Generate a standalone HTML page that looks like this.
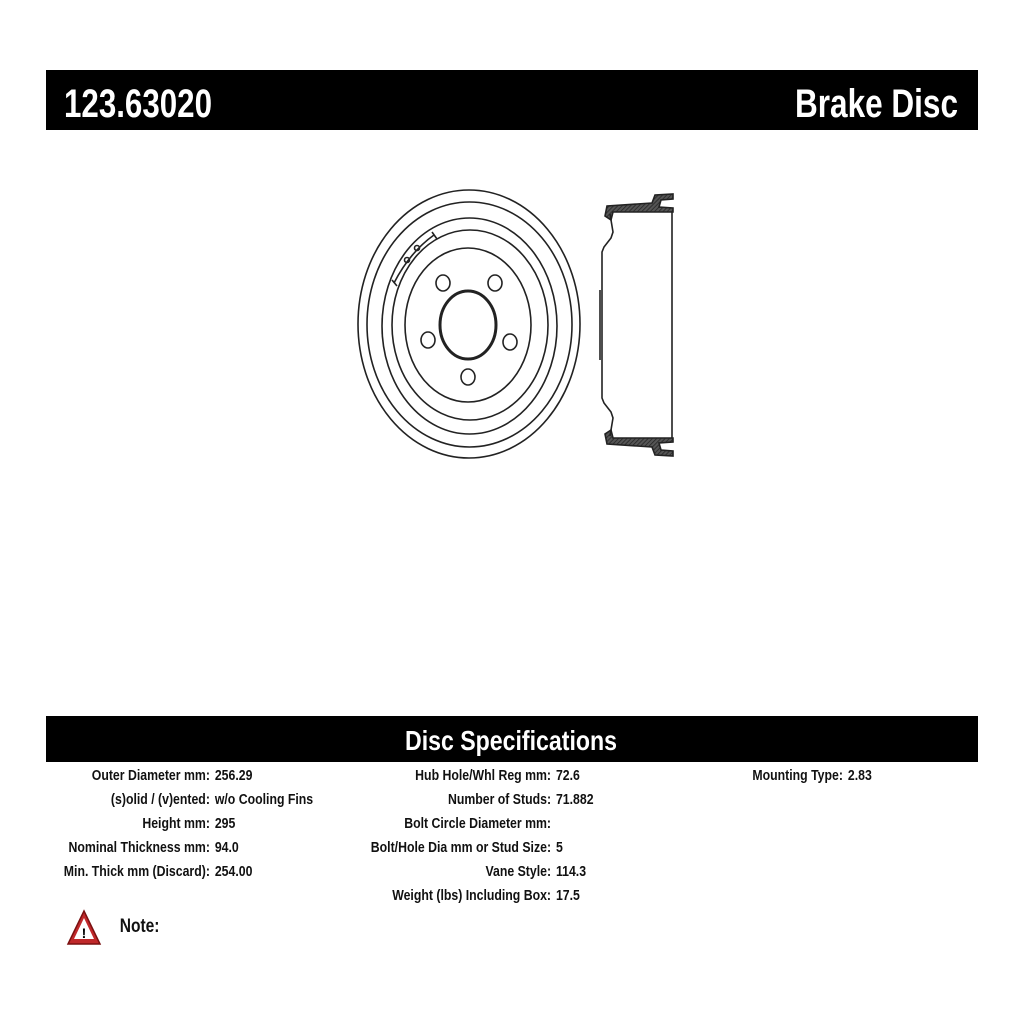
<!DOCTYPE html>
<html><head><meta charset="utf-8"><style>
html,body{margin:0;padding:0;background:#fff}
svg{display:block}
text{font-family:"Liberation Sans",Arial,sans-serif;font-weight:bold}
</style></head><body>
<svg width="1024" height="1024" viewBox="0 0 1024 1024" xmlns="http://www.w3.org/2000/svg">
<defs>
<pattern id="h" width="3" height="3" patternUnits="userSpaceOnUse" patternTransform="rotate(45)">
<rect width="3" height="3" fill="#555"/><line x1="0" y1="0" x2="0" y2="3" stroke="#222" stroke-width="1.5"/>
</pattern>
</defs>
<rect x="46" y="70" width="932" height="60" fill="#000"/>
<text x="64" y="117" font-size="40" fill="#fff" textLength="148" lengthAdjust="spacingAndGlyphs">123.63020</text>
<text x="795" y="117" font-size="40" fill="#fff" textLength="163" lengthAdjust="spacingAndGlyphs">Brake Disc</text>

<g fill="none" stroke="#222" stroke-width="1.6">
<ellipse cx="469" cy="324" rx="111" ry="134"/>
<ellipse cx="469.5" cy="324.5" rx="102.5" ry="122.5"/>
<ellipse cx="469.5" cy="326" rx="87.5" ry="108"/>
<ellipse cx="470" cy="325" rx="78" ry="95"/>
<ellipse cx="468" cy="325" rx="63" ry="77"/>
<ellipse cx="468" cy="325" rx="28" ry="34" stroke-width="3"/>
<ellipse cx="443" cy="283" rx="7" ry="8"/>
<ellipse cx="495" cy="283" rx="7" ry="8"/>
<ellipse cx="428" cy="340" rx="7" ry="8"/>
<ellipse cx="510" cy="342" rx="7" ry="8"/>
<ellipse cx="468" cy="377" rx="7" ry="8"/>
<circle cx="407" cy="260" r="2.5"/>
<circle cx="417" cy="248" r="2.5"/>
<line x1="432" y1="232" x2="437" y2="239"/>
<line x1="392" y1="280" x2="397" y2="286"/>
<path d="M434 235 Q410 252 394 283"/>
</g>

<!-- side view -->
<g stroke="#222" stroke-width="1.6">
<path d="M605 216 L607 206 L652 203 L655 195 L673 194 L673 199 L661 200 L659 207 L673 208 L673 212 L613 212 L611 220 Z" fill="url(#h)"/>
<path d="M605 434 L607 444 L652 447 L655 455 L673 456 L673 451 L661 450 L659 443 L673 442 L673 438 L613 438 L611 430 Z" fill="url(#h)"/>
<line x1="672" y1="212" x2="672" y2="438" fill="none"/>
<path d="M610 214 L613 232 L611 238 L604 247 L602 252 L602 398 L604 403 L611 412 L613 418 L610 436" fill="none"/>
<line x1="600" y1="290" x2="600" y2="360"/>
</g>

<rect x="46" y="716" width="932" height="46" fill="#000"/>
<text x="405" y="750" font-size="28" fill="#fff" textLength="212" lengthAdjust="spacingAndGlyphs">Disc Specifications</text>

<g transform="scale(0.82 1)" font-size="15" fill="#111">
<g text-anchor="end">
<text x="256" y="780">Outer Diameter mm:</text>
<text x="256" y="804">(s)olid / (v)ented:</text>
<text x="256" y="828">Height mm:</text>
<text x="256" y="852">Nominal Thickness mm:</text>
<text x="256" y="876">Min. Thick mm (Discard):</text>
<text x="672" y="780">Hub Hole/Whl Reg mm:</text>
<text x="672" y="804">Number of Studs:</text>
<text x="672" y="828">Bolt Circle Diameter mm:</text>
<text x="672" y="852">Bolt/Hole Dia mm or Stud Size:</text>
<text x="672" y="876">Vane Style:</text>
<text x="672" y="900">Weight (lbs) Including Box:</text>
<text x="1028" y="780">Mounting Type:</text>
</g>
<text x="262" y="780">256.29</text>
<text x="262" y="804">w/o Cooling Fins</text>
<text x="262" y="828">295</text>
<text x="262" y="852">94.0</text>
<text x="262" y="876">254.00</text>
<text x="678" y="780">72.6</text>
<text x="678" y="804">71.882</text>
<text x="678" y="852">5</text>
<text x="678" y="876">114.3</text>
<text x="678" y="900">17.5</text>
<text x="1034" y="780">2.83</text>
<text x="146" y="932" font-size="19">Note:</text>
</g>
<path d="M84 911 L100 944 L68 944 Z" fill="#c0282a" stroke="#7a1010" stroke-width="1.5"/>
<path d="M84 918 L94 939 L74 939 Z" fill="#fff"/>
<text x="84" y="938" font-size="14" text-anchor="middle" fill="#000">!</text>
</svg>
</body></html>
